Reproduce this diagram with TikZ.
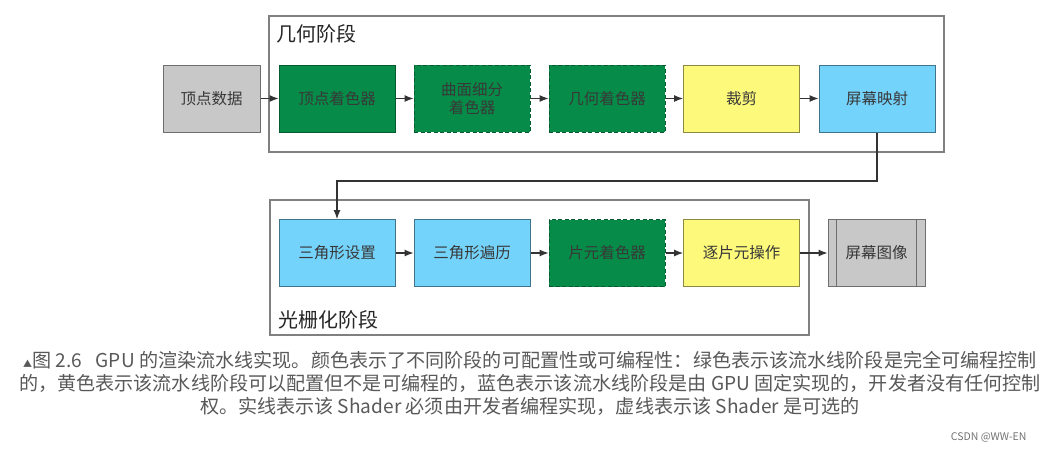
\documentclass[tikz,border=0pt]{standalone}
\usepackage{fontspec}
\setmainfont{Noto Sans CJK SC}
\usepackage{tikz}
\usetikzlibrary{arrows.meta}
\definecolor{shgreen}{RGB}{6, 140, 72}
\definecolor{cfyellow}{RGB}{253, 249, 122}
\definecolor{fxblue}{RGB}{116, 211, 251}
\definecolor{iogray}{RGB}{200, 200, 200}
\definecolor{grpgray}{RGB}{128, 128, 128}

\begin{document}
\begin{tikzpicture}[x=1pt, y=-1pt,
      st/.style={draw, line width=1pt, minimum width=116pt, minimum height=67pt, inner sep=2pt,
                 align=center, font=\fontsize{15.5}{17.5}\selectfont, text=black!78},
      prog/.style={st, fill=shgreen, draw=shgreen!65!black},
      opt/.style={prog, dash pattern=on 4pt off 2.5pt},
      conf/.style={st, fill=cfyellow, draw=cfyellow!55!black},
      fix/.style={st, fill=fxblue, draw=fxblue!55!black},
      io/.style={st, minimum width=97pt, fill=iogray, draw=iogray!55!black},
      grp/.style={draw=grpgray, line width=1.3pt, inner sep=0pt},
      ttl/.style={anchor=west, font=\fontsize{20}{22}\selectfont, text=black!85},
      ar/.style={-{Latex[length=9pt,width=7pt]}, line width=1.1pt, color=black!80}]
      \fill[white] (0,0) rectangle (1051,450);
      % stage frames
      \node[grp, minimum width=675pt, minimum height=136pt] (geo) at (606.5,84) {};
      \node[grp, minimum width=539pt, minimum height=135pt] (ras) at (539.5,267.5) {};
      \node[ttl] (geot) at (273,34) {几何阶段};
      \node[ttl] (rast) at (275,320) {光栅化阶段};
      % geometry row
      \node[io]   (data) at (211.5,98.5) {顶点数据};
      \node[prog] (vs)   at (337,98.5)   {顶点着色器};
      \node[opt]  (tess) at (472,98.5)   {曲面细分\\着色器};
      \node[opt]  (gs)   at (607,98.5)   {几何着色器};
      \node[conf] (clip) at (741.5,98.5) {裁剪};
      \node[fix]  (smap) at (877,98.5)   {屏幕映射};
      % raster row
      \node[fix]  (tset) at (337,253)    {三角形设置};
      \node[fix]  (trav) at (472,253)    {三角形遍历};
      \node[opt]  (fs)   at (607,253)    {片元着色器};
      \node[conf] (fop)  at (741.5,253)  {逐片元操作};
      \node[io]   (img)  at (876.5,253)  {屏幕图像};
      \draw[iogray!55!black, line width=1pt] ([xshift=9pt]img.north west) -- ([xshift=9pt]img.south west)
        ([xshift=-9pt]img.north east) -- ([xshift=-9pt]img.south east);
      \draw[ar](data)--(vs); \draw[ar](vs)--(tess); \draw[ar](tess)--(gs); \draw[ar](gs)--(clip); \draw[ar](clip)--(smap);
      \coordinate (bend) at (600,181);
      \draw[ar](smap.south) |- (bend) -| (tset.north);
      \draw[ar](tset)--(trav); \draw[ar](trav)--(fs); \draw[ar](fs)--(fop); \draw[ar](fop)--(img);
      % caption
      \node[align=center, font=\fontsize{19.1}{23}\selectfont, text=black!65] (cap) at (530,383)
        {{\fontsize{9}{9}\selectfont ▲}图 2.6\enspace\ GPU 的渲染流水线实现。颜色表示了不同阶段的可配置性或可编程性：绿色表示该流水线阶段是完全可编程控制\\
         的，黄色表示该流水线阶段可以配置但不是可编程的，蓝色表示该流水线阶段是由 GPU 固定实现的，开发者没有任何控制\\
         权。实线表示该 Shader 必须由开发者编程实现，虚线表示该 Shader 是可选的};
      \node[anchor=east, font=\fontsize{10.5}{12}\selectfont, text=black!55] (mark) at (1030,437) {CSDN @WW-EN};
    \end{tikzpicture}
\end{document}
